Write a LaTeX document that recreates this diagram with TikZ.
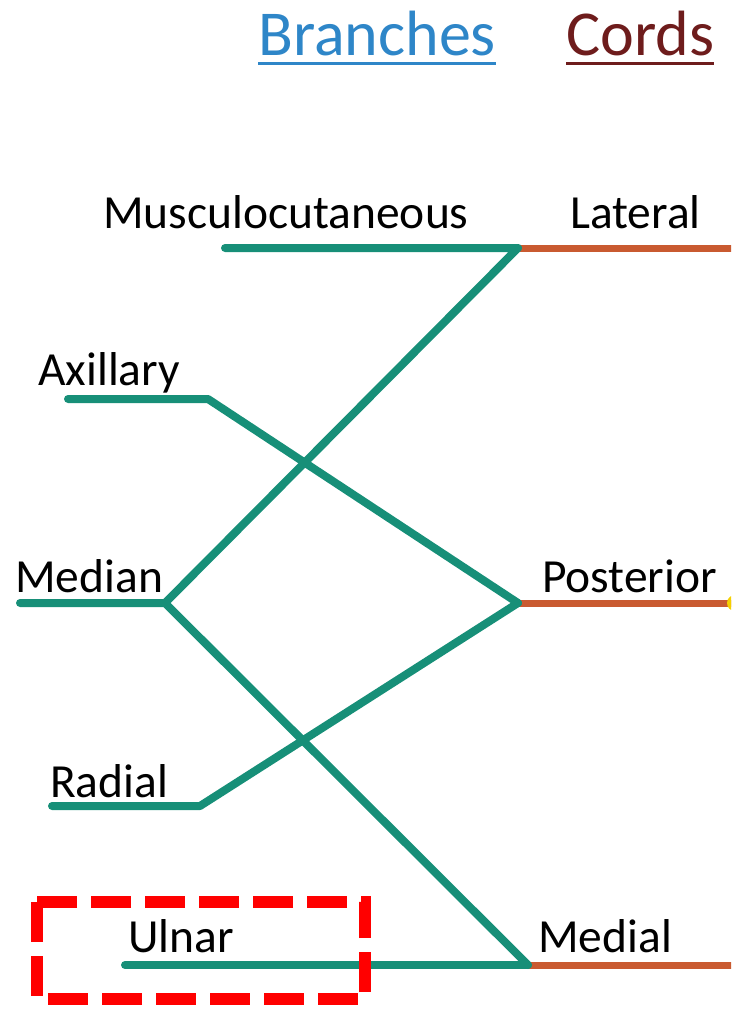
\documentclass[tikz,border=0pt]{standalone}
\usepackage{fontspec}
\setmainfont{Carlito}
\definecolor{teal2}{HTML}{178F78}
\definecolor{cordorange}{HTML}{C95A30}
\definecolor{brblue}{HTML}{2E86C8}
\definecolor{cordred}{HTML}{6E1C1C}
\definecolor{boxred}{HTML}{FF0000}
\definecolor{dotyellow}{HTML}{F5D000}
\begin{document}
\begin{tikzpicture}[x=1pt,y=-1pt,
  lbl/.style={anchor=base west,inner sep=0pt,font=\fontsize{47.5}{50}\selectfont,text=black},
  hdr/.style={anchor=base west,inner sep=0pt,font=\fontsize{64}{68}\selectfont},
  br/.style={draw=teal2,line width=8pt,line cap=round,line join=round},
  cord/.style={draw=cordorange,line width=7pt},
  hl/.style={draw=boxred,line width=12pt,dash pattern=on 40pt off 14pt}]
\useasboundingbox (0,0) rectangle (731,1009);
\clip (0,0) rectangle (731,1009);
% headers
\node[hdr,text=brblue] (hb) at (258,55) {Branches};
\node[hdr,text=cordred] (hc) at (566,55) {Cords};
\draw[brblue,line width=3pt] ([yshift=-8pt]hb.base west) -- ([yshift=-8pt]hb.base east);
\draw[cordred,line width=3pt] ([yshift=-8pt]hc.base west) -- ([yshift=-8pt]hc.base east);
% labels
\node[lbl] (mc) at (103,228) {Musculocutaneous};
\node[lbl] (ax) at (38,385) {Axillary};
\node[lbl] (me) at (15,592) {Median};
\node[lbl] (ra) at (50,797) {Radial};
\node[lbl] (ul) at (128,952) {Ulnar};
\node[lbl] (la) at (570,228) {Lateral};
\node[lbl] (po) at (542,592) {Posterior};
\node[lbl] (md) at (538,952) {Medial};
% junction coordinates
\coordinate (L) at (518,248);
\coordinate (P) at (518,603);
\coordinate (M) at (528,965);
\coordinate (mcS) at (225,248);
\coordinate (axS) at (68,399);
\coordinate (axB) at (208,399);
\coordinate (meS) at (20,603);
\coordinate (meB) at (165,603);
\coordinate (raS) at (52,806);
\coordinate (raB) at (200,806);
\coordinate (ulS) at (125,965);
\coordinate (Le) at (735,248);
\coordinate (Pe) at (735,603);
\coordinate (Me) at (735,965);
% cords
\draw[cord] (L) -- (Le);
\draw[cord] (P) -- (Pe);
\draw[cord] (M) -- (Me);
\fill[dotyellow] (Pe) circle (8);
% branches
\draw[br] (mcS) -- (L) -- (meB);
\draw[br] (axS) -- (axB) -- (P);
\draw[br] (meS) -- (meB) -- (M);
\draw[br] (raS) -- (raB) -- (P);
\draw[br] (ulS) -- (M);
% highlight box
\draw[hl] (37,902) rectangle (365,999);
\end{tikzpicture}
\end{document}
